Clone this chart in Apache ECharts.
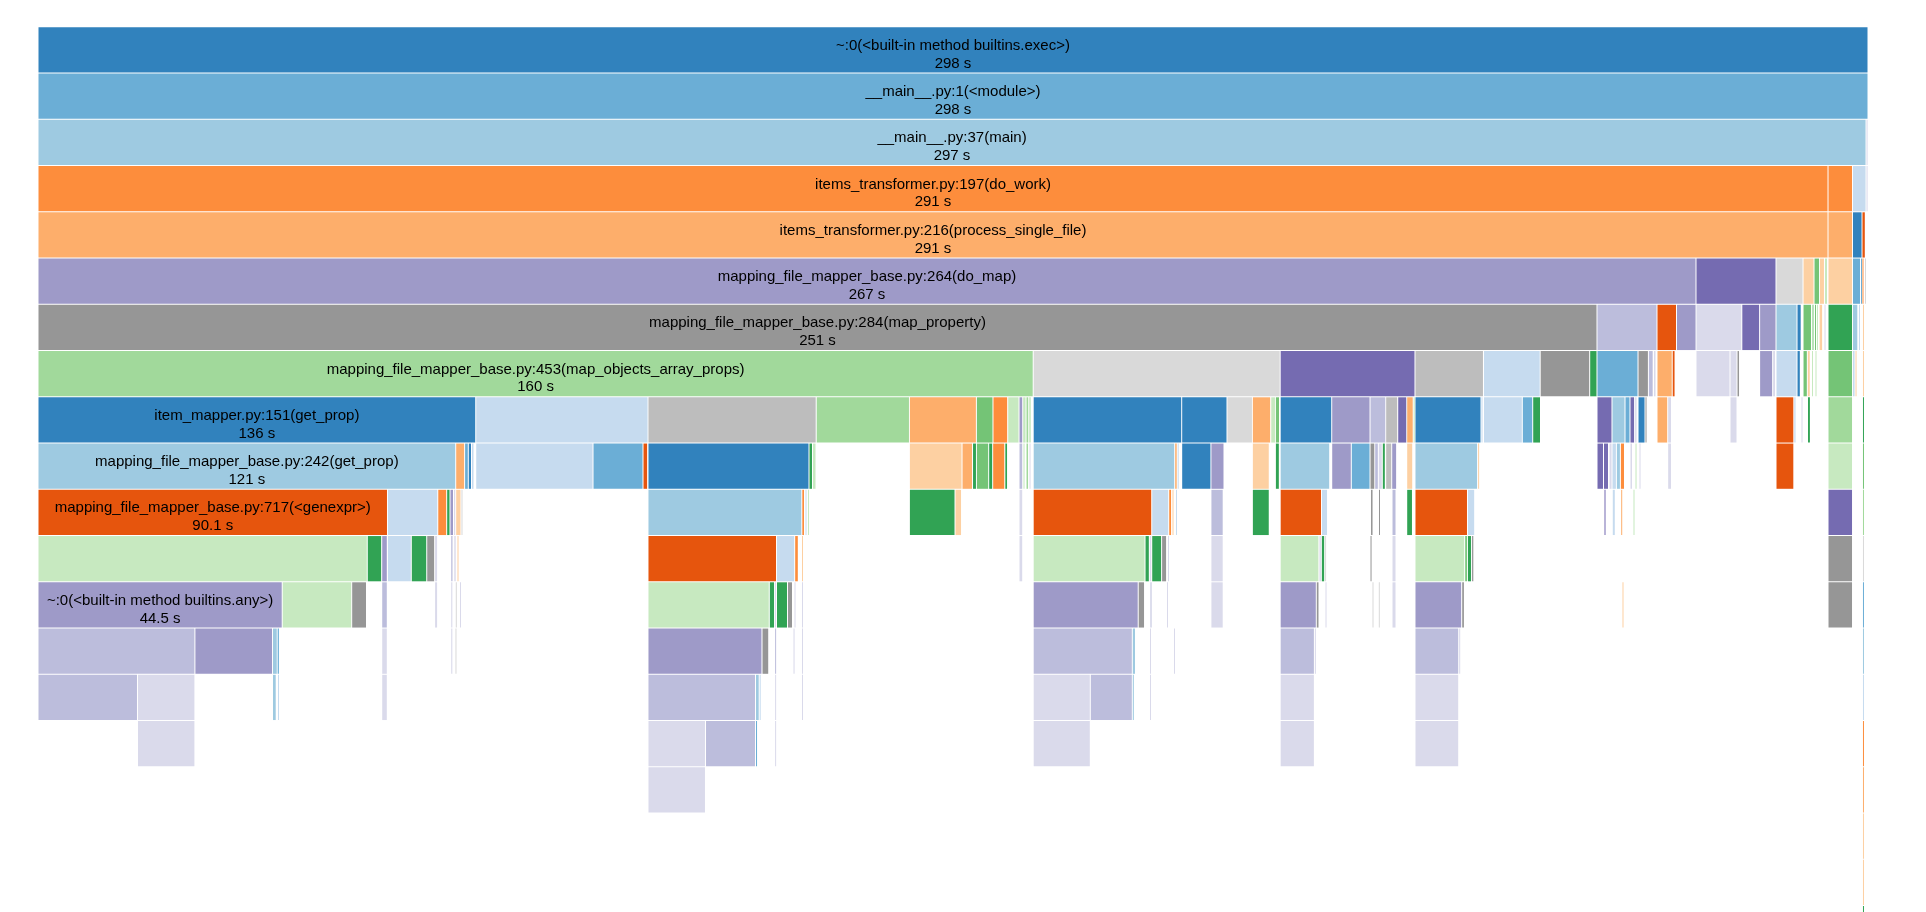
<!DOCTYPE html>
<html>
<head>
<meta charset="utf-8">
<script src="https://cdn.jsdelivr.net/npm/echarts@6/dist/echarts.min.js"></script>
<style>
  html, body { margin: 0; padding: 0; background: #fff; }
  #chart { width: 1926px; height: 912px; }
</style>
</head>
<body>
<div id="chart"></div>
<script>
// d3 category20c palette (colour index per frame)
const palette = ['#3182bd','#6baed6','#9ecae1','#c6dbef','#e6550d','#fd8d3c','#fdae6b','#fdd0a2',
                 '#31a354','#74c476','#a1d99b','#c7e9c0','#756bb1','#9e9ac8','#bcbddc','#dadaeb',
                 '#636363','#969696','#bdbdbd','#d9d9d9'];

// labelled frames: names and cumulative times (s)
const funcNames = [
  '~:0(<built-in method builtins.exec>)',
  '__main__.py:1(<module>)',
  '__main__.py:37(main)',
  'items_transformer.py:197(do_work)',
  'items_transformer.py:216(process_single_file)',
  'mapping_file_mapper_base.py:264(do_map)',
  'mapping_file_mapper_base.py:284(map_property)',
  'mapping_file_mapper_base.py:453(map_objects_array_props)',
  'item_mapper.py:151(get_prop)',
  'mapping_file_mapper_base.py:242(get_prop)',
  'mapping_file_mapper_base.py:717(<genexpr>)',
  '~:0(<built-in method builtins.any>)'
];
const funcTimes = [298, 298, 297, 291, 291, 267, 251, 160, 136, 121, 90.1, 44.5];

// each frame: [start (s), width (s), colour index, label index?]
const level0 = [[0, 298, 0, 0]];
const level1 = [[0, 298, 1, 1]];
const level2 = [[0, 297.68, 2, 2], [297.68, 0.33, 15]];
const level3 = [[0, 291.49, 5, 3], [291.49, 3.99, 5], [295.48, 2.20, 3], [297.68, 0.33, 15]];
const level4 = [[0, 291.49, 6, 4], [291.49, 3.99, 6], [295.48, 1.55, 0], [297.02, 0.54, 4]];
const level5 = [[0, 269.99, 13, 5], [269.99, 13.03, 12], [283.02, 4.40, 19], [287.42, 1.79, 7], [289.21, 0.90, 9],
  [290.10, 0.81, 7], [290.92, 0.49, 11], [291.49, 3.99, 7], [295.48, 1.30, 1], [296.78, 0.24, 1], [297.02, 0.24, 5], [297.43, 0.24, 19]];
const level6 = [[0, 253.87, 17, 6], [253.87, 9.77, 14], [263.64, 3.18, 4], [266.82, 3.18, 13], [269.99, 7.46, 15],
  [277.45, 2.90, 12], [280.35, 2.67, 13], [283.02, 3.42, 2], [286.44, 0.68, 0], [287.42, 1.38, 9], [288.88, 0.24, 9],
  [289.29, 0.24, 9], [289.61, 0.24, 11], [290.04, 0.57, 7], [290.84, 0.24, 15], [291.49, 3.99, 8], [295.48, 0.86, 2],
  [296.45, 0.24, 3], [297.10, 0.24, 7]];
const level7 = [[0, 162.06, 10, 7], [162.06, 40.22, 19], [202.28, 21.95, 12], [224.23, 11.15, 18], [235.39, 9.23, 3],
  [244.62, 8.06, 17], [252.68, 1.19, 8], [253.87, 6.68, 1], [260.55, 1.69, 17], [262.24, 0.78, 14], [263.07, 0.41, 15],
  [263.64, 2.48, 6], [266.12, 0.46, 4], [269.99, 5.54, 15], [275.53, 1.14, 15], [276.67, 0.41, 17], [280.35, 2.12, 13],
  [282.47, 0.47, 15], [283.02, 3.42, 3], [286.44, 0.54, 0], [287.42, 0.70, 9], [288.12, 0.47, 7], [288.80, 0.21, 11],
  [289.37, 0.24, 11], [291.49, 3.99, 9], [295.48, 0.41, 3], [295.89, 0.29, 7], [297.10, 0.24, 7]];
const level8 = [[0, 71.28, 0, 8], [71.28, 28.06, 3], [99.33, 27.39, 18], [126.73, 15.18, 10], [141.90, 10.91, 6],
  [152.81, 2.70, 9], [155.51, 2.39, 5], [157.91, 1.84, 11], [159.75, 0.60, 13], [160.35, 0.54, 11], [160.89, 0.44, 10],
  [161.33, 0.42, 11], [162.06, 24.18, 0], [186.24, 7.38, 0], [193.62, 4.14, 19], [197.75, 2.98, 6], [200.74, 0.77, 11],
  [201.50, 0.67, 9], [202.28, 8.39, 0], [210.67, 6.24, 13], [216.91, 2.56, 14], [219.46, 1.95, 18], [221.42, 1.47, 12],
  [222.88, 1.06, 6], [223.94, 0.21, 11], [224.23, 10.75, 0], [234.98, 0.33, 3], [235.39, 6.32, 3], [241.71, 1.69, 1],
  [243.40, 1.27, 8], [253.87, 2.44, 12], [256.31, 2.12, 2], [258.43, 0.81, 1], [259.24, 0.75, 12], [260.00, 0.39, 15],
  [260.55, 1.14, 0], [261.69, 0.24, 17], [263.64, 1.74, 6], [265.38, 0.62, 15], [275.53, 1.14, 15], [283.02, 2.90, 4],
  [285.92, 0.36, 3], [287.09, 0.24, 15], [288.15, 0.47, 8], [291.49, 3.99, 10], [297.10, 0.24, 8]];
const level9 = [[0, 68.02, 2, 9], [68.02, 1.45, 6], [69.47, 0.60, 1], [70.07, 0.52, 0], [70.59, 0.41, 3], [71.28, 19.10, 3],
  [90.38, 8.14, 1], [98.52, 0.75, 4], [99.33, 26.22, 0], [125.55, 0.57, 8], [126.12, 0.57, 11], [141.90, 8.57, 7],
  [150.47, 1.71, 6], [152.18, 0.64, 8], [152.81, 2.00, 9], [154.81, 0.65, 8], [155.46, 1.97, 5], [157.44, 0.44, 8],
  [159.75, 0.60, 14], [160.40, 0.33, 11], [160.89, 0.41, 10], [161.38, 0.33, 15], [162.06, 23.04, 2], [185.10, 0.41, 6],
  [185.51, 0.21, 3], [186.24, 4.76, 0], [191.00, 2.13, 13], [197.75, 2.75, 7], [201.50, 0.64, 8], [202.28, 8.06, 2],
  [210.67, 3.19, 13], [213.86, 3.05, 1], [216.91, 0.77, 17], [217.67, 0.59, 14], [218.26, 0.65, 15], [218.91, 0.49, 8],
  [219.46, 0.98, 18], [220.44, 0.80, 13], [222.88, 0.98, 7], [224.23, 10.19, 2], [234.43, 0.23, 7], [253.87, 1.06, 12],
  [254.93, 0.81, 12], [255.83, 0.49, 15], [256.31, 0.72, 3], [257.03, 0.65, 2], [257.68, 0.67, 5], [259.24, 0.41, 15],
  [260.06, 0.33, 11], [260.71, 0.24, 15], [265.38, 0.62, 15], [283.02, 2.90, 4], [291.49, 3.99, 11], [297.10, 0.24, 9]];
const level10 = [[0, 56.91, 4, 10], [56.91, 8.19, 3], [65.10, 1.45, 5], [66.55, 0.54, 8], [67.09, 0.57, 13], [67.66, 0.36, 15],
  [68.02, 0.86, 7], [68.88, 0.24, 19], [99.33, 25.05, 2], [124.38, 0.44, 5], [124.90, 0.28, 3], [125.31, 0.24, 11],
  [141.90, 7.43, 8], [149.33, 1.06, 7], [159.75, 0.60, 15], [162.06, 19.30, 4], [181.36, 2.77, 3], [184.13, 0.46, 5],
  [184.66, 0.33, 7], [185.23, 0.24, 3], [191.00, 2.00, 14], [197.75, 2.75, 8], [202.28, 6.73, 4], [209.01, 0.98, 3],
  [216.99, 0.41, 17], [218.29, 0.29, 17], [220.49, 0.65, 14], [222.88, 0.94, 8], [224.23, 8.55, 4], [232.78, 1.17, 3],
  [255.01, 0.28, 12], [256.36, 0.49, 3], [257.73, 0.31, 6], [259.73, 0.33, 11], [291.49, 3.99, 12], [297.10, 0.24, 10]];
const level11 = [[0, 53.62, 11], [53.62, 2.34, 8], [55.97, 0.91, 13], [56.91, 3.88, 3], [60.79, 2.51, 8], [63.30, 1.29, 17],
  [64.58, 0.49, 15], [67.21, 0.37, 14], [67.71, 0.39, 15], [68.23, 0.33, 7], [99.33, 20.93, 4], [120.26, 2.96, 3],
  [123.22, 0.59, 5], [124.33, 0.29, 7], [159.75, 0.60, 15], [162.06, 18.21, 11], [180.27, 0.70, 8], [180.97, 0.39, 15],
  [181.36, 1.61, 8], [182.97, 0.81, 17], [183.93, 0.24, 15], [191.00, 2.00, 15], [202.28, 6.30, 11], [208.59, 0.39, 15],
  [208.98, 0.54, 8], [209.51, 0.23, 19], [216.91, 0.16, 17], [220.49, 0.65, 15], [224.23, 8.09, 11], [232.33, 0.44, 9],
  [232.77, 0.67, 8], [233.44, 0.37, 17], [291.49, 3.99, 17], [297.10, 0.24, 19]];
const level12 = [[0, 39.77, 13, 11], [39.77, 11.32, 11], [51.08, 2.41, 17], [55.97, 0.91, 14], [64.58, 0.49, 15],
  [67.21, 0.34, 15], [67.95, 0.33, 19], [68.64, 0.29, 15], [99.33, 19.75, 11], [119.09, 0.85, 8], [119.93, 0.33, 15],
  [120.26, 1.79, 8], [122.05, 0.81, 17], [123.11, 0.24, 15], [124.33, 0.24, 15], [162.06, 17.10, 13], [179.16, 1.03, 17],
  [181.08, 0.28, 14], [183.77, 0.24, 15], [191.00, 2.00, 15], [202.28, 5.88, 13], [208.16, 0.44, 17], [209.58, 0.24, 15],
  [217.23, 0.21, 19], [218.26, 0.20, 19], [220.49, 0.65, 15], [224.23, 7.60, 13], [231.84, 0.44, 17],
  [257.94, 0.24, 7], [291.49, 3.99, 17], [297.10, 0.24, 1]];
const level13 = [[0, 25.55, 14], [25.55, 12.64, 13], [38.19, 0.77, 2], [38.95, 0.36, 1], [55.97, 0.91, 15], [67.21, 0.34, 15],
  [67.90, 0.29, 19], [99.33, 18.56, 13], [117.90, 1.09, 17], [119.95, 0.26, 14], [122.95, 0.33, 15], [124.33, 0.24, 15],
  [162.06, 16.14, 14], [178.20, 0.52, 2], [181.00, 0.24, 15], [184.91, 0.24, 15], [202.28, 5.57, 14], [207.85, 0.26, 15],
  [224.23, 7.12, 14], [231.35, 0.29, 15], [297.10, 0.24, 2]];
const level14 = [[0, 16.20, 14], [16.20, 9.35, 15], [38.19, 0.60, 2], [39.00, 0.24, 3], [55.97, 0.91, 15], [99.33, 17.51, 14],
  [116.84, 0.60, 2], [117.44, 0.21, 3], [119.95, 0.26, 15], [124.33, 0.24, 15], [162.06, 9.30, 15], [171.36, 6.84, 14],
  [178.20, 0.33, 2], [181.00, 0.24, 15], [202.28, 5.57, 15], [224.23, 7.12, 15], [297.10, 0.24, 3]];
const level15 = [[16.20, 9.35, 15], [99.33, 9.36, 15], [108.70, 8.14, 14], [116.84, 0.33, 1], [119.95, 0.26, 15],
  [162.06, 9.30, 15], [202.28, 5.57, 15], [224.23, 7.12, 15], [297.10, 0.24, 5]];
const level16 = [[99.33, 9.36, 15], [297.10, 0.24, 6]];
const level17 = [[297.10, 0.24, 7]];
const level18 = [[297.10, 0.24, 7]];
const level19 = [[297.10, 0.24, 8]];

const levels = [level0, level1, level2, level3, level4, level5, level6, level7, level8, level9,
                level10, level11, level12, level13, level14, level15, level16, level17, level18, level19];

const data = [];
levels.forEach((lv, depth) => {
  lv.forEach(f => data.push([depth, f[0], f[1], f[2], f.length > 3 ? f[3] : -1]));
});

const TOTAL = 298;
const ROW_PX = 46.25;
const GRID_TOP = 26.8;
const GRID_H = 912 - GRID_TOP;

function renderItem(params, api) {
  const depth = api.value(0), start = api.value(1), width = api.value(2);
  const ci = api.value(3), li = api.value(4);
  const p0 = api.coord([start, depth]);
  const p1 = api.coord([start + width, depth + 1]);
  const x = p0[0] + 0.5;
  const w = Math.max(1, p1[0] - p0[0] - 1);
  const y = p0[1] + 0.5;
  const h = p1[1] - p0[1] - 1;
  const rect = {
    type: 'rect',
    shape: { x: x, y: y, width: w, height: h },
    style: { fill: palette[ci] }
  };
  if (li < 0) return rect;
  const cx = (p0[0] + p1[0]) / 2;
  const font = '15px "Liberation Sans", Arial, sans-serif';
  return {
    type: 'group',
    children: [
      rect,
      { type: 'text', style: { text: funcNames[li], x: cx, y: p0[1] + 18.9, align: 'center', verticalAlign: 'middle', font: font, fill: '#000' } },
      { type: 'text', style: { text: funcTimes[li] + ' s', x: cx, y: p0[1] + 36.7, align: 'center', verticalAlign: 'middle', font: font, fill: '#000' } }
    ]
  };
}

const chart = echarts.init(document.getElementById('chart'), null, { renderer: 'canvas' });
chart.setOption({
  animation: false,
  backgroundColor: '#fff',
  grid: { left: 38, top: GRID_TOP, width: 1830, height: GRID_H },
  xAxis: { type: 'value', min: 0, max: TOTAL, show: false },
  yAxis: { type: 'value', min: 0, max: GRID_H / ROW_PX, inverse: true, show: false },
  series: [{
    type: 'custom',
    renderItem: renderItem,
    encode: { x: 1, y: 0 },
    data: data,
    clip: false
  }]
});
</script>
</body>
</html>
